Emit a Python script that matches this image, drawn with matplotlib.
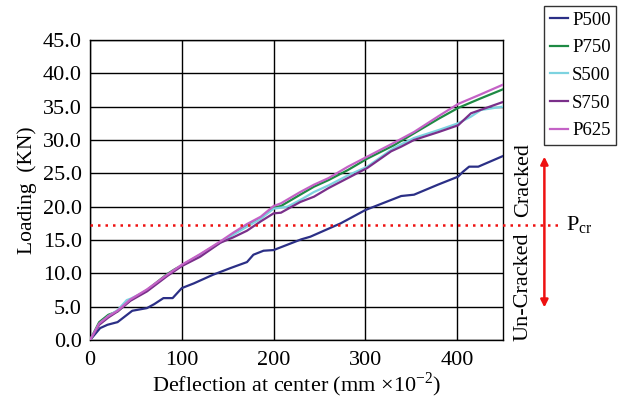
import matplotlib
matplotlib.use("Agg")
import matplotlib.pyplot as plt

plt.rcParams['font.family'] = ['Liberation Serif', 'DejaVu Serif']
plt.rcParams['mathtext.fontset'] = 'custom'
plt.rcParams['mathtext.rm'] = 'Liberation Serif'

labels = ["P500", "P750", "S500", "S750", "P625"]
colors = ["#2B2F86", "#1E8A44", "#7DD3E0", "#7A2F8A", "#C462C6"]

p500_x = [0, 11, 19, 30, 46, 62, 70, 80, 90, 100, 113, 134, 153, 171, 178, 189, 200, 215, 230, 240, 273, 300, 339, 353, 379, 401, 406, 413, 423, 450]
p500_y = [0, 1.8, 2.3, 2.7, 4.4, 4.8, 5.4, 6.3, 6.3, 7.8, 8.5, 9.8, 10.8, 11.7, 12.8, 13.4, 13.5, 14.3, 15.1, 15.5, 17.5, 19.5, 21.6, 21.8, 23.3, 24.5, 25.2, 26.0, 26.0, 27.6]

p750_x = [0, 10, 20, 30, 44, 62, 84, 92, 100, 120, 142, 156, 171, 186, 200, 208, 229, 244, 260, 281, 302, 331, 353, 380, 401, 425, 450]
p750_y = [0, 2.7, 3.8, 4.3, 6.0, 7.5, 9.9, 10.6, 11.2, 12.8, 14.7, 15.9, 17.2, 18.3, 19.9, 20.1, 21.8, 23.0, 24.0, 25.5, 27.2, 29.2, 31.0, 33.2, 34.8, 36.2, 37.6]

s500_x = [0, 10, 20, 30, 40, 44, 62, 84, 100, 120, 142, 156, 171, 186, 200, 215, 229, 244, 260, 281, 302, 331, 353, 380, 401, 415, 426, 450]
s500_y = [0, 2.4, 3.6, 4.5, 6.0, 6.2, 7.4, 9.7, 11.2, 12.7, 14.6, 15.8, 17.0, 18.2, 19.7, 20.0, 21.0, 22.2, 23.2, 24.7, 26.0, 28.8, 30.3, 31.5, 32.5, 33.5, 34.5, 35.0]

s750_x = [0, 10, 20, 30, 44, 62, 84, 100, 120, 142, 156, 171, 186, 200, 208, 229, 244, 260, 281, 302, 328, 339, 353, 380, 401, 415, 450]
s750_y = [0, 2.3, 3.4, 4.3, 5.9, 7.3, 9.6, 11.1, 12.5, 14.6, 15.4, 16.4, 17.8, 19.0, 19.1, 20.7, 21.5, 22.8, 24.3, 25.8, 28.3, 29.0, 30.0, 31.2, 32.2, 34.0, 35.7]

p625_x = [0, 10, 20, 30, 44, 62, 84, 100, 120, 142, 156, 171, 186, 200, 208, 229, 244, 260, 281, 302, 330, 353, 380, 401, 425, 450]
p625_y = [0, 2.5, 3.6, 4.4, 6.1, 7.6, 9.8, 11.3, 12.9, 14.8, 16.1, 17.4, 18.5, 20.1, 20.5, 22.2, 23.3, 24.3, 26.0, 27.5, 29.5, 31.2, 33.6, 35.4, 36.8, 38.3]

series_x = [p500_x, p750_x, s500_x, s750_x, p625_x]
series_y = [p500_y, p750_y, s500_y, s750_y, p625_y]

x_ticks = [0, 100, 200, 300, 400]
y_ticks = [0, 5, 10, 15, 20, 25, 30, 35, 40, 45]
p_cr = 17.3

fig = plt.figure(figsize=(6.23, 4.03), dpi=100)
ax = fig.add_axes([0.1445, 0.156, 0.663, 0.745])

for xs, ys, c, lab in zip(series_x, series_y, colors, labels):
    ax.plot(xs, ys, color=c, lw=1.6, label=lab, zorder=3)

ax.set_xlim(0, 450)
ax.set_ylim(0, 45)
ax.set_xticks(x_ticks)
ax.set_yticks(y_ticks)
ax.set_yticklabels([f"{v:.1f}" for v in y_ticks])
ax.grid(True, color='black', lw=1.0)
ax.tick_params(length=0, labelsize=16)
ax.tick_params(axis='y', pad=6)
ax.tick_params(axis='x', pad=8)
for s in ax.spines.values():
    s.set_color('black')
    s.set_linewidth(1.0)

ax.set_xlabel(r"Deflection at center (mm $\times$10$^{\mathregular{-2}}$)", fontsize=16, labelpad=0)
ax.set_ylabel("Loading  (KN)", fontsize=15.5, labelpad=4)

# Pcr dotted line extending beyond the axes
ax.plot([0, 511], [p_cr, p_cr], color='#EE1111', ls=(0, (1, 2)), lw=1.8, clip_on=False, zorder=4)
ax.text(519, p_cr, r"P$_{\mathregular{cr}}$", fontsize=16, va='center', ha='left')

# double-headed arrow
ax.annotate("", xy=(495, 27.5), xytext=(495, 4.9), xycoords='data',
            arrowprops=dict(arrowstyle='<|-|>', color='#EE1111', lw=1.8,
                            mutation_scale=11, shrinkA=0, shrinkB=0),
            annotation_clip=False)
ax.text(472, 24.0, "Cracked", rotation=90, fontsize=16, ha='center', va='center')
ax.text(472, 7.95, "Un-Cracked", rotation=90, fontsize=16, ha='center', va='center')

leg = fig.legend(loc='upper left', bbox_to_anchor=(0.873, 0.985), fontsize=13.5,
                 frameon=True, fancybox=False, edgecolor='black', handlelength=1.0,
                 handletextpad=0.2, borderpad=0.3, labelspacing=0.56, borderaxespad=0)
leg.get_frame().set_linewidth(1.0)

fig.savefig("out.png", dpi=100)
